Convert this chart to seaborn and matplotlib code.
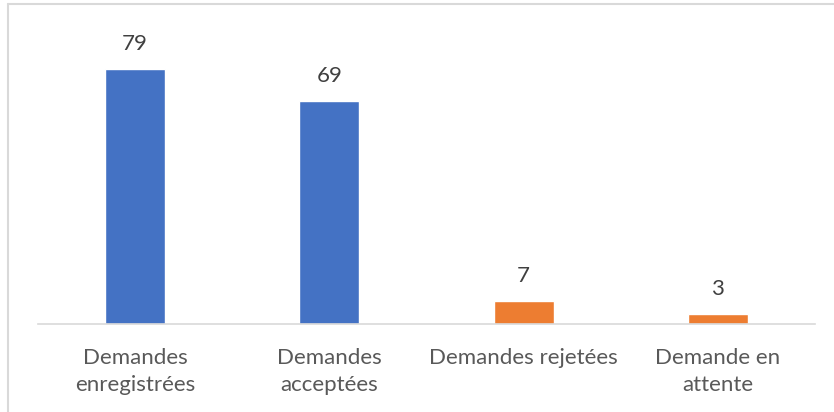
import matplotlib
matplotlib.use("Agg")
import matplotlib.pyplot as plt
import matplotlib.lines as mlines
import pandas as pd
import seaborn as sns

categories = ["Demandes\nenregistrées", "Demandes\nacceptées", "Demandes rejetées", "Demande en\nattente"]
values = [79, 69, 7, 3]
bar_colors = ["#4472C4", "#4472C4", "#ED7D31", "#ED7D31"]

sns.set_style("white")
plt.rcParams['font.family'] = ['Lato', 'DejaVu Sans']

df = pd.DataFrame({"cat": categories, "val": values})

fig = plt.figure(figsize=(8.34, 4.12), dpi=100)
ax = fig.add_axes([38 / 834, (412 - 324) / 412, (815 - 38) / 834, 290.7 / 412])
sns.barplot(data=df, x="cat", y="val", hue="cat", palette=bar_colors,
            width=0.31, legend=False, ax=ax, saturation=1)

ax.set_ylim(0, 90)
ax.set_xlim(-0.5, 3.5)
for s in ["top", "right", "left"]:
    ax.spines[s].set_visible(False)
ax.spines["bottom"].set_color("#D9D9D9")
ax.spines["bottom"].set_linewidth(1.2)
ax.set_yticks([])
ax.set_xlabel("")
ax.set_ylabel("")
ax.tick_params(axis="x", length=0, pad=17, labelsize=16, labelcolor="#595959")
for lbl in ax.get_xticklabels():
    lbl.set_linespacing(1.45)

for i, v in enumerate(values):
    ax.annotate(str(v), (i, v), xytext=(0, 18), textcoords="offset points",
                ha="center", va="center", fontsize=16, color="#404040")

# chart border (top and left edges visible)
fig.add_artist(mlines.Line2D([8 / 834, 8 / 834], [0, 1 - 4 / 412], color="#D9D9D9", lw=1.5))
fig.add_artist(mlines.Line2D([8 / 834, 1], [1 - 4 / 412, 1 - 4 / 412], color="#D9D9D9", lw=1.5))

fig.savefig("out.png", dpi=100)
